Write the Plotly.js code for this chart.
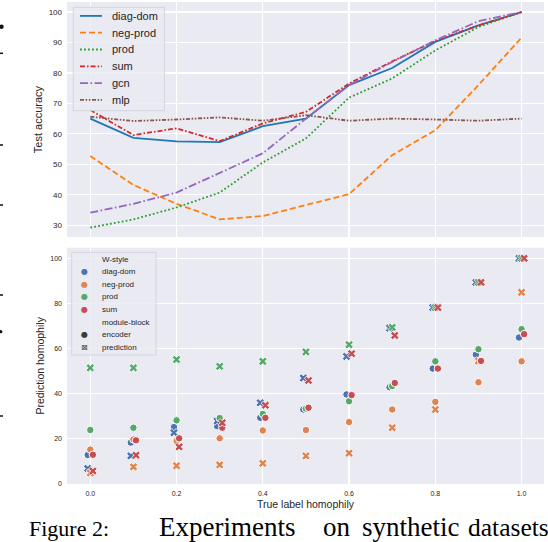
<!DOCTYPE html>
<html>
<head>
<meta charset="utf-8">
<script src="https://cdn.plot.ly/plotly-3.0.1.min.js"></script>
<style>html,body{margin:0;padding:0;background:#fff}#chart{width:548px;height:542px}</style>
</head>
<body>
<div id="chart"></div>
<script>
// ---------- data ----------
const homophily = [0.0, 0.1, 0.2, 0.3, 0.4, 0.5, 0.6, 0.7, 0.8, 0.9, 1.0];
const xTickVals = [0.0, 0.2, 0.4, 0.6, 0.8, 1.0];
const xTickText = ['0.0', '0.2', '0.4', '0.6', '0.8', '1.0'];

// top panel: test accuracy
const accSeries = ['diag-dom', 'neg-prod', 'prod', 'sum', 'gcn', 'mlp'];
const accDiagDom = [65.0, 58.7, 57.5, 57.3, 62.5, 65.0, 76.0, 81.6, 90.2, 95.6, 100.0];
const accNegProd = [52.7, 43.2, 37.0, 31.9, 33.0, 36.6, 40.2, 53.0, 61.2, 76.0, 91.6];
const accProd    = [29.2, 31.9, 35.8, 40.7, 50.6, 58.5, 71.9, 78.2, 87.4, 95.1, 100.0];
const accSum     = [67.8, 59.6, 61.8, 57.6, 63.4, 67.2, 76.5, 83.8, 90.5, 95.6, 100.0];
const accGcn     = [34.1, 37.0, 40.7, 47.2, 53.6, 65.0, 76.0, 83.6, 90.7, 97.0, 100.0];
const accMlp     = [65.6, 64.2, 64.7, 65.4, 64.3, 66.1, 64.3, 65.0, 64.7, 64.3, 65.0];

// bottom panel: prediction homophily
const wStyles = ['diag-dom', 'neg-prod', 'prod', 'sum'];
const modules = ['encoder', 'prediction'];
const encDiagDom  = [12.6, 18.1, 25.0, 25.4, 29.1, 32.8, 39.5, 42.7, 51.0, 57.2, 64.8];
const encNegProd  = [15.0, 19.5, 18.8, 20.0, 23.5, 23.7, 27.2, 32.8, 36.2, 44.9, 54.2];
const encProd     = [23.7, 24.7, 28.0, 29.0, 30.8, 33.2, 36.5, 43.2, 54.2, 59.6, 68.5];
const encSum      = [12.7, 19.1, 20.0, 24.7, 29.1, 33.6, 39.2, 44.6, 51.0, 54.4, 66.3];
const predDiagDom = [6.6, 12.2, 22.5, 27.7, 35.8, 46.8, 56.4, 69.0, 78.1, 89.3, 100.0];
const predNegProd = [4.6, 7.3, 7.8, 8.2, 8.9, 12.2, 13.4, 24.7, 32.8, 54.4, 84.9];
const predProd    = [51.3, 51.3, 55.0, 52.0, 54.2, 58.4, 61.6, 69.3, 78.1, 89.3, 100.0];
const predSum     = [5.5, 12.5, 16.2, 26.9, 34.7, 45.7, 57.6, 65.7, 78.1, 89.3, 100.0];

// caption words
const captionLead = 'Figure 2:';
const captionWords = ['Experiments', 'on', 'synthetic', 'datasets'];

// ---------- styles ----------
const lineColors = ['#1f77b4', '#ff7f0e', '#2ca02c', '#d62728', '#9467bd', '#8c564b'];
const lineDashes = ['solid', '6px,3px', '1.8px,2.2px', '5px,2px,1.6px,2px', '8px,2.5px,1.6px,2.5px', '4px,1.6px,1.6px,1.6px,1.6px,1.6px'];
const dotColors = ['#4C72B0', '#DD8452', '#55A868', '#C44E52'];
const jitter = [-0.006, 0.0, 0.0, 0.006];
const captionWordLeft = [158, 322, 361, 467];
const captionWordSize = [27, 27, 27, 25.5];

const W = 548, H = 542, ML = 67, MR = 4, MT = 2, MB = 58;
const PW = W - ML - MR, PH = H - MT - MB;
const px = p => (p - ML) / PW;
const py = p => (H - MB - p) / PH;

const accData = [accDiagDom, accNegProd, accProd, accSum, accGcn, accMlp];
const encData = [encDiagDom, encNegProd, encProd, encSum];
const predData = [predDiagDom, predNegProd, predProd, predSum];

const traces = [];
accSeries.forEach((name, i) => {
  traces.push({
    type: 'scatter', mode: 'lines', name: name,
    x: homophily, y: accData[i], xaxis: 'x2', yaxis: 'y2',
    line: {color: lineColors[i], width: 1.8, dash: lineDashes[i]},
    showlegend: false, hoverinfo: 'skip'
  });
});
wStyles.forEach((name, i) => {
  const xj = homophily.map(v => v + jitter[i]);
  traces.push({
    type: 'scatter', mode: 'markers', name: name + ' encoder',
    x: xj, y: encData[i], xaxis: 'x', yaxis: 'y',
    marker: {symbol: 'circle', size: 7.5, color: dotColors[i], line: {color: '#ffffff', width: 1}},
    showlegend: false, hoverinfo: 'skip'
  });
  traces.push({
    type: 'scatter', mode: 'markers', name: name + ' prediction',
    x: xj, y: predData[i], xaxis: 'x', yaxis: 'y',
    marker: {symbol: 'x', size: 7.5, color: dotColors[i], line: {color: '#ffffff', width: 0.8}},
    showlegend: false, hoverinfo: 'skip'
  });
});

const FONT = 'Liberation Sans, Arial, sans-serif';
const SERIF = 'Liberation Serif, Times New Roman, serif';
const TXT = '#262626';

const shapes = [];
const annotations = [];

// top legend (manual, matplotlib-like)
shapes.push({type: 'rect', xref: 'paper', yref: 'paper', layer: 'above',
  x0: px(73.3), x1: px(164.5), y0: py(110.7), y1: py(7.3),
  fillcolor: 'rgba(234,234,242,0.8)', line: {color: '#d4d4dc', width: 1}});
accSeries.forEach((name, i) => {
  const yc = 15.9 + 16.8 * i;
  shapes.push({type: 'line', xref: 'paper', yref: 'paper', layer: 'above',
    x0: px(80), x1: px(102), y0: py(yc), y1: py(yc),
    line: {color: lineColors[i], width: 1.8, dash: lineDashes[i]}});
  annotations.push({xref: 'paper', yref: 'paper', x: px(110), y: py(yc), xanchor: 'left', yanchor: 'middle',
    text: name, showarrow: false, font: {family: FONT, size: 11, color: TXT}});
});

// bottom legend (manual, seaborn-like)
shapes.push({type: 'rect', xref: 'paper', yref: 'paper', layer: 'above',
  x0: px(71.7), x1: px(156), y0: py(355), y1: py(252.3),
  fillcolor: 'rgba(234,234,242,0.8)', line: {color: '#d4d4dc', width: 1}});
const legRows = ['W-style'].concat(wStyles, ['module-block'], modules);
legRows.forEach((label, i) => {
  const yc = 259 + 12.6 * i;
  annotations.push({xref: 'paper', yref: 'paper', x: px(100), y: py(yc), xanchor: 'left', yanchor: 'middle',
    text: label, showarrow: false, font: {family: FONT, size: 8, color: TXT}});
  let sym = null, col = null, sz = 8;
  if (i >= 1 && i <= 4) { sym = '●'; col = dotColors[i - 1]; }
  if (i === 6) { sym = '●'; col = '#3a3a3a'; }
  if (i === 7) { sym = '⊠'; col = '#3a3a3a'; }
  if (sym) {
    annotations.push({xref: 'paper', yref: 'paper', x: px(84), y: py(yc), xanchor: 'center', yanchor: 'middle',
      text: sym, showarrow: false, font: {family: 'DejaVu Sans', size: sz, color: col}});
  }
});

// fragments of neighbouring page text at the far left edge
[53.3, 145, 205, 295, 416].forEach(yy => {
  shapes.push({type: 'line', xref: 'paper', yref: 'paper', x0: px(0), x1: px(3), y0: py(yy), y1: py(yy),
    line: {color: '#111', width: 1.5}});
});
[[1.5, 26.7, 2.2], [0.8, 331.7, 1.6]].forEach(d => {
  shapes.push({type: 'circle', xref: 'paper', yref: 'paper', x0: px(d[0] - d[2]), x1: px(d[0] + d[2]),
    y0: py(d[1] + d[2]), y1: py(d[1] - d[2]), fillcolor: '#111', line: {width: 0}});
});

// caption (justified, as in the paper)
annotations.push({xref: 'paper', yref: 'paper', x: px(27), y: py(528.5), xanchor: 'left', yanchor: 'middle',
  text: captionLead, showarrow: false, font: {family: SERIF, size: 22, color: '#000'}});
captionWords.forEach((w, i) => {
  const s = captionWordSize[i];
  annotations.push({xref: 'paper', yref: 'paper', x: px(captionWordLeft[i]), y: py(535 - 0.3 * s), xanchor: 'left', yanchor: 'middle',
    text: w, showarrow: false, borderpad: 0, font: {family: SERIF, size: s, color: '#000'}});
});

const axisCommon = {
  showgrid: true, gridcolor: '#ffffff', gridwidth: 1.3, zeroline: false, showline: false,
  ticks: '', tickfont: {family: FONT, size: 8, color: TXT}
};

const layout = {
  width: W, height: H,
  margin: {l: ML, r: MR, t: MT, b: MB, pad: 0},
  paper_bgcolor: '#ffffff', plot_bgcolor: '#EAEAF2',
  showlegend: false,
  font: {family: FONT, color: TXT},
  xaxis: Object.assign({}, axisCommon, {
    domain: [0, 1], anchor: 'y', range: [-0.054, 1.052],
    tickvals: xTickVals, ticktext: xTickText, tickfont: {family: FONT, size: 7, color: TXT},
    ticklabelstandoff: 4,
    title: {text: 'True label homophily', font: {family: FONT, size: 10.5, color: TXT}, standoff: 4}
  }),
  yaxis: Object.assign({}, axisCommon, {
    domain: [0, 0.4902], anchor: 'x', range: [-0.3, 104.7], tick0: 0, dtick: 20,
    tickfont: {family: FONT, size: 7, color: TXT}, ticklabelstandoff: 4,
    title: {text: 'Prediction homophily', font: {family: FONT, size: 10.5, color: TXT}, standoff: 3}
  }),
  xaxis2: Object.assign({}, axisCommon, {
    domain: [0, 1], anchor: 'y2', matches: 'x', range: [-0.054, 1.052],
    tickvals: xTickVals, showticklabels: false
  }),
  yaxis2: Object.assign({}, axisCommon, {
    domain: [0.5124, 1], anchor: 'x2', range: [26.1, 103.3], tick0: 0, dtick: 10,
    ticklabelstandoff: 4,
    title: {text: 'Test accuracy', font: {family: FONT, size: 11, color: TXT}, standoff: 3}
  }),
  shapes: shapes,
  annotations: annotations
};

Plotly.newPlot('chart', traces, layout, {displayModeBar: false, staticPlot: true});
</script>
</body>
</html>
